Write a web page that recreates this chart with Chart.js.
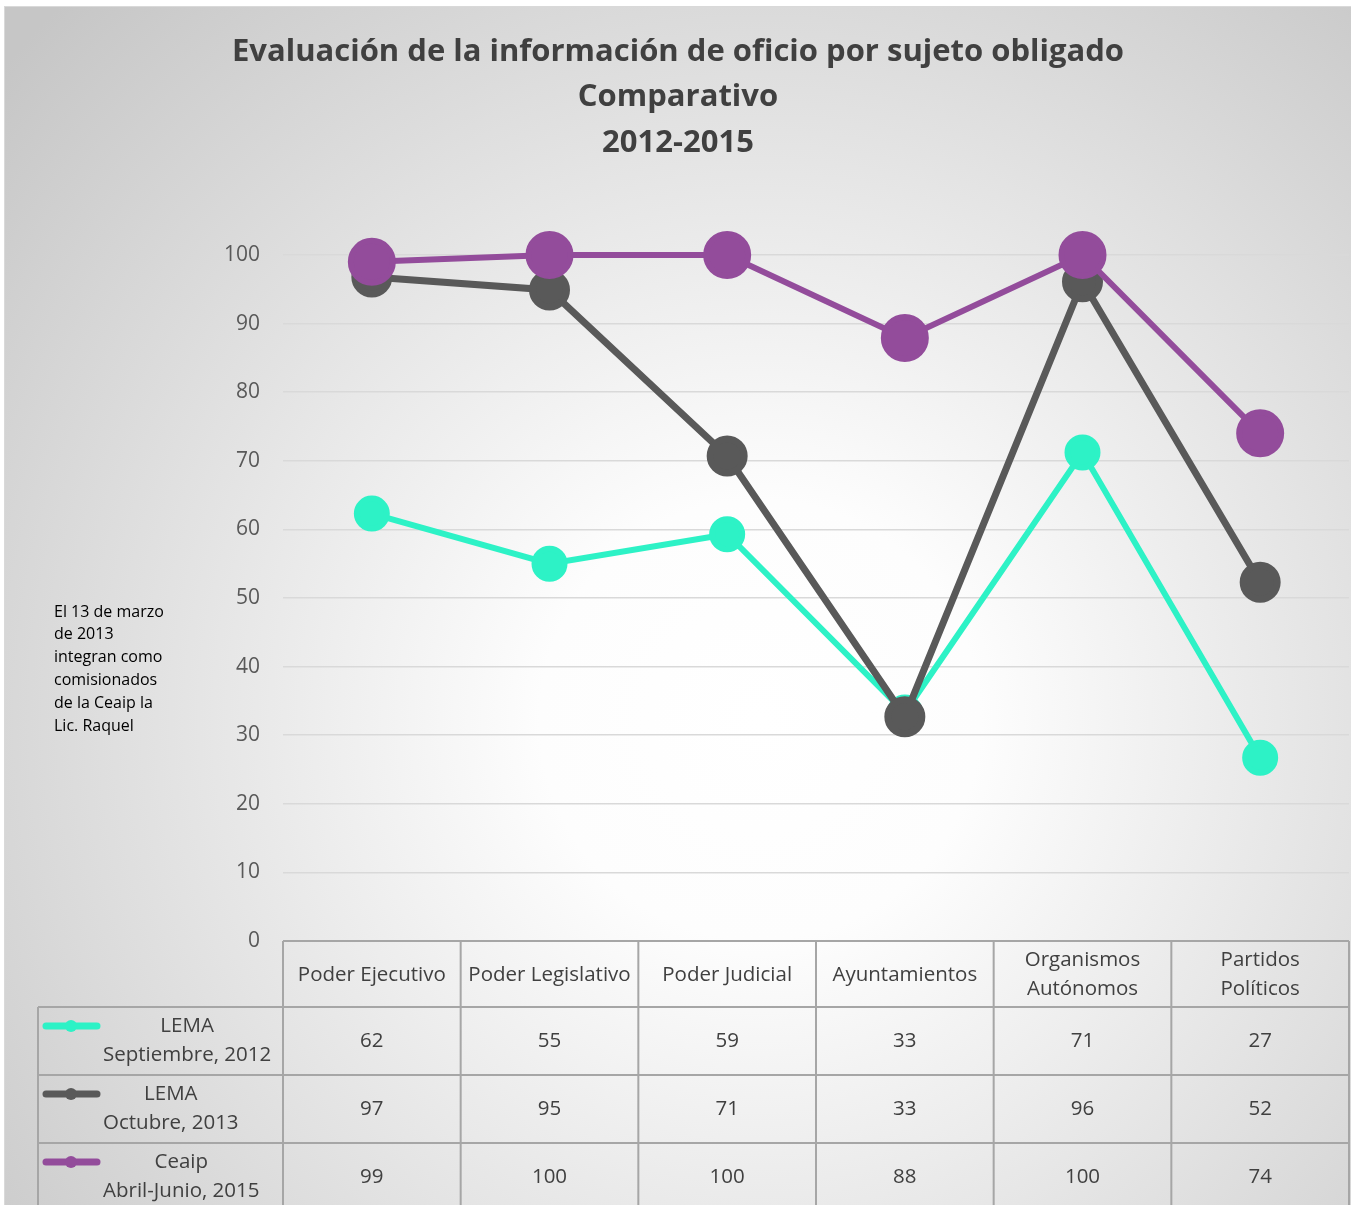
<!DOCTYPE html>
<html lang="es">
<head>
<meta charset="UTF-8">
<title>Evaluación de la información de oficio</title>
<script src="https://cdn.jsdelivr.net/npm/chart.js@4.4.0/dist/chart.umd.min.js"></script>
<style>
  body { margin: 0; background: #fff; }
  canvas { display: block; }
</style>
</head>
<body>
<canvas id="chart" width="1351" height="1205"></canvas>
<script>
// categories (header of the data table)
const categories = [
  ['Poder Ejecutivo'], ['Poder Legislativo'], ['Poder Judicial'],
  ['Ayuntamientos'], ['Organismos', 'Autónomos'], ['Partidos', 'Políticos']
];
// series names (two-line labels in the table)
const seriesNames = [
  ['LEMA', 'Septiembre, 2012'],
  ['LEMA', 'Octubre, 2013'],
  ['Ceaip', 'Abril-Junio, 2015']
];
// plotted values (table shows them rounded)
const lemaSep2012 = [62.3, 55.0, 59.3, 33.3, 71.2, 26.7];
const lemaOct2013 = [96.8, 94.9, 70.7, 32.7, 96.1, 52.3];
const ceaip2015   = [99.0, 100, 100, 87.9, 100, 74.0];
const yTicks = [0, 10, 20, 30, 40, 50, 60, 70, 80, 90, 100];

const titleLines = ['Evaluación de la información de oficio por sujeto obligado', 'Comparativo', '2012-2015'];
const noteLines = ['El 13 de marzo', 'de 2013', 'integran como', 'comisionados', 'de la Ceaip la', 'Lic. Raquel'];

const colors = ['#2df2c6', '#595959', '#934c9b'];
const allSeries = [lemaSep2012, lemaOct2013, ceaip2015];

const FONT = '"Open Sans", sans-serif';

// background, title and side note
const backdrop = {
  id: 'backdrop',
  beforeDraw(chart) {
    const ctx = chart.ctx;
    ctx.save();
    ctx.fillStyle = '#fff';
    ctx.fillRect(0, 0, chart.width, chart.height);
    const g = ctx.createRadialGradient(760, 720, 0, 760, 720, 1000);
    g.addColorStop(0, '#ffffff');
    g.addColorStop(0.22, '#fdfdfd');
    g.addColorStop(1, '#c6c6c6');
    ctx.fillStyle = g;
    ctx.fillRect(5, 7, chart.width - 5, chart.height - 7);
    ctx.strokeStyle = '#d9d9d9';
    ctx.lineWidth = 1;
    ctx.strokeRect(4.5, 6.5, chart.width, chart.height);

    ctx.fillStyle = '#404040';
    ctx.textAlign = 'center';
    ctx.textBaseline = 'middle';
    ctx.font = 'bold 31px ' + FONT;
    titleLines.forEach((t, i) => ctx.fillText(t, 678, 52 + i * 45.5));

    ctx.fillStyle = '#000';
    ctx.textAlign = 'left';
    ctx.font = '16px ' + FONT;
    noteLines.forEach((t, i) => ctx.fillText(t, 54, 612 + i * 22.8));
    ctx.restore();
  }
};

// data table under the plot
const dataTable = {
  id: 'dataTable',
  afterDraw(chart) {
    const ctx = chart.ctx;
    const area = chart.chartArea;
    const xs = chart.scales.x;
    const n = categories.length;
    const colW = (area.right - area.left) / n;
    const top = area.bottom;
    const headH = 66, rowH = 68;
    const labelLeft = 38;
    ctx.save();
    ctx.strokeStyle = '#a6a6a6';
    ctx.lineWidth = 2;
    ctx.beginPath();
    // header row
    ctx.moveTo(area.left, top); ctx.lineTo(area.right, top);
    for (let i = 0; i <= n; i++) {
      const x = area.left + i * colW;
      ctx.moveTo(x, top); ctx.lineTo(x, chart.height + 10);
    }
    // body rows
    for (let r = 0; r < allSeries.length; r++) {
      const y = top + headH + r * rowH;
      ctx.moveTo(labelLeft, y); ctx.lineTo(area.right, y);
    }
    ctx.moveTo(labelLeft, top + headH); ctx.lineTo(labelLeft, chart.height + 10);
    ctx.stroke();

    ctx.fillStyle = '#404040';
    ctx.textAlign = 'center';
    ctx.textBaseline = 'middle';
    ctx.font = '20.5px ' + FONT;
    categories.forEach((lines, i) => {
      const cx = xs.getPixelForValue(i);
      const cy = top + headH / 2 + 1;
      lines.forEach((t, k) => ctx.fillText(t, cx, cy + (k - (lines.length - 1) / 2) * 29));
    });

    allSeries.forEach((vals, r) => {
      const rowTop = top + headH + r * rowH;
      const cy = rowTop + rowH / 2;
      vals.forEach((v, i) => {
        ctx.fillStyle = '#404040';
        ctx.fillText(String(Math.round(v)), xs.getPixelForValue(i), cy);
      });
      // legend key
      ctx.strokeStyle = colors[r];
      ctx.lineWidth = 7;
      ctx.lineCap = 'round';
      ctx.beginPath();
      ctx.moveTo(46, rowTop + 19); ctx.lineTo(97, rowTop + 19);
      ctx.stroke();
      ctx.fillStyle = colors[r];
      ctx.beginPath();
      ctx.arc(71, rowTop + 19, 6, 0, Math.PI * 2);
      ctx.fill();
      // series label, lines centred on the widest one
      ctx.fillStyle = '#404040';
      const lines = seriesNames[r];
      const maxW = Math.max(...lines.map(t => ctx.measureText(t).width));
      const cx = 103 + maxW / 2;
      ctx.fillText(lines[0], cx, rowTop + 19);
      ctx.fillText(lines[1], cx, rowTop + 48);
    });
    ctx.restore();
  }
};

new Chart(document.getElementById('chart'), {
  type: 'line',
  data: {
    labels: categories.map(c => c.join(' ')),
    datasets: [
      { label: seriesNames[0].join(' '), data: lemaSep2012, borderColor: colors[0], backgroundColor: colors[0],
        borderWidth: 6, pointRadius: 15, pointHoverRadius: 15, order: 2, clip: false },
      { label: seriesNames[1].join(' '), data: lemaOct2013, borderColor: colors[1], backgroundColor: colors[1],
        borderWidth: 7, pointRadius: 17, pointHoverRadius: 17, order: 1, clip: false },
      { label: seriesNames[2].join(' '), data: ceaip2015, borderColor: colors[2], backgroundColor: colors[2],
        borderWidth: 6, pointRadius: 21, pointHoverRadius: 21, order: 0, clip: false }
    ]
  },
  options: {
    responsive: false,
    animation: false,
    devicePixelRatio: 1,
    layout: { autoPadding: false, padding: { top: 255, bottom: 264, left: 0, right: 2 } },
    plugins: { legend: { display: false }, title: { display: false }, tooltip: { enabled: false } },
    elements: { line: { tension: 0 }, point: { borderWidth: 0 } },
    scales: {
      x: { type: 'category', offset: true, display: false },
      y: {
        min: 0, max: 100,
        afterFit(scale) { scale.width = 283; },
        afterBuildTicks(scale) { scale.ticks = yTicks.map(v => ({ value: v })); },
        border: { display: false },
        grid: { color: '#d9d9d9', lineWidth: 1.5, drawTicks: false },
        ticks: { color: '#595959', padding: 23, font: { family: FONT, size: 21 } }
      }
    }
  },
  plugins: [backdrop, dataTable]
});
</script>
</body>
</html>
